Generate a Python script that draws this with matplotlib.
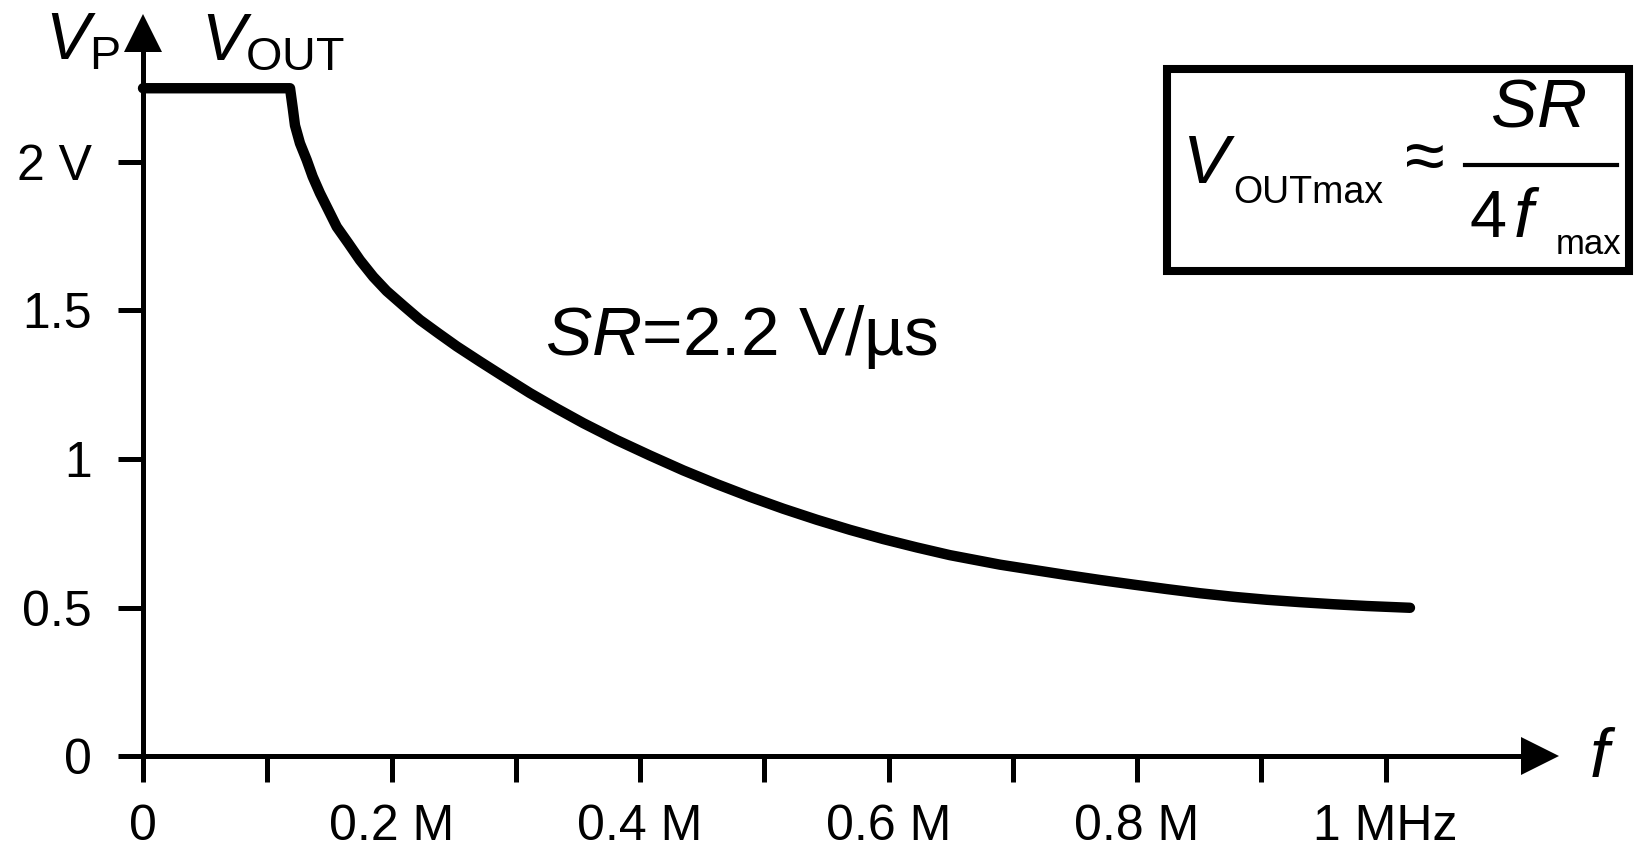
import matplotlib
matplotlib.use("Agg")
import matplotlib.pyplot as plt
from matplotlib.patches import Rectangle

plt.rcParams['font.family'] = ['Liberation Sans', 'DejaVu Sans']
plt.rcParams['mathtext.fontset'] = 'custom'
plt.rcParams['mathtext.rm'] = 'Liberation Sans'
plt.rcParams['mathtext.it'] = 'Liberation Sans:italic'

# curve: frequency in MHz, peak output in V
freq_mhz = [0.0, 0.1183, 0.1205, 0.1223, 0.1263, 0.1317, 0.1365, 0.1424, 0.1491,
            0.1559, 0.1652, 0.1746, 0.1853, 0.1961, 0.2095, 0.2229, 0.2377, 0.2525,
            0.2712, 0.2900, 0.3114, 0.3330, 0.3543, 0.3812, 0.4080, 0.4348, 0.4617,
            0.4885, 0.5153, 0.5422, 0.5690, 0.5958, 0.6226, 0.6494, 0.6897, 0.7434,
            0.7702, 0.7970, 0.8238, 0.8506, 0.8774, 0.9043, 0.9311, 0.9579, 0.9848,
            1.0196]
vout_peak = [2.247, 2.247, 2.180, 2.122, 2.062, 2.006, 1.950, 1.894, 1.838,
             1.781, 1.726, 1.669, 1.613, 1.565, 1.516, 1.468, 1.423, 1.379,
             1.328, 1.278, 1.222, 1.170, 1.121, 1.064, 1.012, 0.962, 0.916,
             0.873, 0.833, 0.796, 0.762, 0.731, 0.703, 0.677, 0.645, 0.610,
             0.5935, 0.578, 0.563, 0.549, 0.537, 0.527, 0.519, 0.512, 0.506,
             0.500]

x_ticks = [0, 0.1, 0.2, 0.3, 0.4, 0.5, 0.6, 0.7, 0.8, 0.9, 1.0]
x_ticklabels = ['0', '', '0.2 M', '', '0.4 M', '', '0.6 M', '', '0.8 M', '', '1 MHz']
y_ticks = [0, 0.5, 1, 1.5, 2]
y_ticklabels = ['0', '0.5', '1', '1.5', '2 V']

fig = plt.figure(figsize=(16.36, 8.51), dpi=100)
ax = fig.add_axes([0, 0, 1, 1])
ax.set_xlim(-0.1151, 1.2015)
ax.set_ylim(-0.3178, 2.5437)
ax.patch.set_visible(False)

# axes through the origin, with arrow heads
for side in ['top', 'right']:
    ax.spines[side].set_visible(False)
ax.spines['left'].set_position(('data', 0))
ax.spines['bottom'].set_position(('data', 0))
ax.spines['left'].set_bounds(0, 2.369)
ax.spines['bottom'].set_bounds(0, 1.1098)
for side in ['left', 'bottom']:
    ax.spines[side].set_linewidth(3.6)
ax.plot(0, 2.434, marker='^', ms=27, mew=0, color='black', clip_on=False)
ax.plot(1.1243, 0, marker='>', ms=27, mew=0, color='black', clip_on=False)

ax.set_xticks(x_ticks)
ax.set_xticklabels(x_ticklabels)
ax.set_yticks(y_ticks)
ax.set_yticklabels(y_ticklabels)
ax.tick_params(axis='x', direction='out', length=19, width=3.6, pad=15, labelsize=36)
ax.tick_params(axis='y', direction='out', length=18, width=3.6, pad=19, labelsize=36)

ax.plot(freq_mhz, vout_peak, color='black', lw=7.5,
        solid_capstyle='round', solid_joinstyle='round', clip_on=False)

# axis labels
ax.text(-0.079, 2.342, r'$V_{\mathrm{P}}$', fontsize=48, ha='left', va='baseline')
ax.text(0.0463, 2.342, r'$V_{\mathrm{OUT}}$', fontsize=48, ha='left', va='baseline')
ax.text(1.1645, -0.069, 'f', fontsize=50, style='italic', ha='left', va='baseline')

# slew rate note
ax.text(0.3235, 1.350, r'$SR$=2.2 V/µs', fontsize=50, ha='left', va='baseline')

# formula box
ax.add_patch(Rectangle((0.8241, 1.6325), 1.1959 - 0.8241, 2.3117 - 1.6325,
                       fill=False, lw=5.8, ec='black', clip_on=False))
ax.text(0.8370, 1.928, 'V', fontsize=50, style='italic', ha='left', va='baseline')
ax.text(0.8775, 1.862, 'OUTmax', fontsize=27, ha='left', va='baseline')
ax.text(1.0317, 2.000, '≈', fontsize=52, ha='center', va='center')
ax.plot([1.0639, 1.1862], [1.989, 1.989], color='black', lw=3)
ax.text(1.1226, 2.117, r'$SR$', fontsize=50, ha='center', va='baseline')
ax.text(1.0679, 1.747, '4', fontsize=48, ha='left', va='baseline')
ax.text(1.1030, 1.747, 'f', fontsize=50, style='italic', ha='left', va='baseline')
ax.text(1.1370, 1.690, 'max', fontsize=25, ha='left', va='baseline')

fig.savefig('out.png', dpi=100)
